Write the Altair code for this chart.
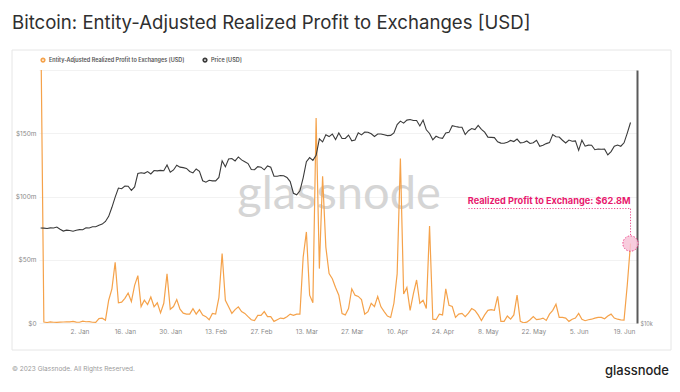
import altair as alt
import pandas as pd

# ---------------- data ----------------
title_text = "Bitcoin: Entity-Adjusted Realized Profit to Exchanges [USD]"
series_names = ["Entity-Adjusted Realized Profit to Exchanges [USD]", "Price [USD]"]
series_colors = ["#f5a24a", "#3a3a3a"]
start_date = "2022-12-21"

# realized profit to exchanges, USD millions, one value per day
profit_musd = [
    250,
    0.8, 0.4, 0.9, 0.6, 0.5, 0.7, 0.8, 1.0, 0.9, 1.3,
    0.7, 0.6, 1.5, 1.0, 1.1, 0.6, 0.5, 3.5, 3.8, 2.2,
    18, 27, 48, 16, 16.5, 19.5, 23.7, 17, 29.7, 37.5,
    13, 18, 14.6, 20.6, 12.8, 16, 8, 15.6, 38.8, 10.9,
    13, 18.5, 11, 7.8, 7, 7, 11.4, 7, 10.6, 6.2,
    5, 2.6, 7.6, 7, 20, 55, 18, 12.8, 7.6, 10.6,
    12.8, 9, 7.6, 5, 2.6, 2, 6, 6, 9, 5,
    5, 1.3, 2.6, 3.9, 3.5, 5, 7, 6, 7, 7,
    52, 72, 22, 16, 162, 43, 116, 60, 39, 35,
    28, 22, 7.5, 6.4, 11.4, 27, 22, 21, 18.5, 7,
    9, 15.6, 13, 21, 12.8, 9, 5.5, 4.4, 15.6, 38.8,
    130, 23, 28, 10, 23, 34, 15.6, 18, 11.4, 76.6,
    3, 2.6, 7, 6.4, 27, 14, 13, 4.4, 7, 7.6,
    5, 7.8, 11.4, 10, 6.4, 2, 6.4, 10, 10.6, 10,
    21, 1.3, 1.3, 5.5, 3, 6.4, 22, 1.3, 0.2, 0.7,
    2.6, 5, 2.6, 3, 3.9, 2, 7, 10, 14.8, 4.4,
    4.4, 3.9, 1.3, 3, 3.9, 7.6, 3, 1.8, 2.6, 3,
    3.9, 4.4, 4.4, 3.4, 5.5, 7, 3.9, 3, 2.5, 2.3,
    30, 62.8,
]

# BTC price, USD, one value per day
price_usd = [
    # Dec 21 - Dec 31
    16830, 16820, 16780, 16840, 16830, 16920, 16710, 16550, 16630, 16600, 16540,
    # Jan
    16620, 16680, 16670, 16850, 16830, 16950, 16950, 17090, 17190, 17440,
    17940, 18850, 19930, 20950, 20870, 21170, 21160, 20690, 21080, 22680,
    22780, 22710, 22920, 22630, 23060, 23010, 23080, 23030, 23770, 22840, 23130,
    # Feb
    23730, 23490, 23430, 23330, 22940, 22760, 23260, 22960, 21800, 21630,
    21860, 21790, 21790, 22200, 24320, 23530, 24570, 24630, 24300, 24840,
    24440, 24190, 23950, 23190, 23160, 23560, 23490, 23150,
    # Mar
    23650, 23480, 22360, 22350, 22430, 22410, 22200, 21700, 20360, 20190,
    20630, 22160, 24200, 24750, 24380, 25050, 27420, 26970, 28040, 27770,
    28170, 27310, 28330, 27490, 27490, 28000, 27140, 27270, 28350, 28030, 28480,
    # Apr
    28450, 28200, 27790, 28170, 28170, 28040, 27920, 27950, 28330, 29650,
    30230, 29890, 30400, 30490, 30320, 30320, 29430, 30400, 28820, 28250,
    27280, 27820, 27590, 27510, 28310, 28420, 29470, 29340, 29250, 29230,
    # May
    28090, 28680, 29030, 28850, 29530, 28900, 28450, 27690, 27650, 27620,
    27000, 26800, 26780, 26930, 27190, 27030, 27400, 26830, 26890, 27110,
    26750, 26850, 27220, 26330, 26480, 26720, 26870, 28090, 27740, 27700, 27220,
    # Jun 1 - Jun 21
    26820, 27250, 27070, 27120, 25760, 27240, 26350, 26500, 26480, 25840,
    25940, 25900, 25920, 25120, 25580, 26330, 26510, 26340, 26840, 28310, 30000,
]

x_tick_dates = [
    "2023-01-02", "2023-01-16", "2023-01-30", "2023-02-13", "2023-02-27",
    "2023-03-13", "2023-03-27", "2023-04-10", "2023-04-24", "2023-05-08",
    "2023-05-22", "2023-06-05", "2023-06-19",
]
x_domain = ["2022-12-20T12:00:00", "2023-06-23T00:00:00"]
y_grid_musd = [0, 25, 50, 75, 100, 125, 150, 175, 200]
annotation_text = "Realized Profit to Exchange: $62.8M"
annotation_start = "2023-05-02"
footer_text = "\u00a9 2023 Glassnode. All Rights Reserved."
brand_text = "glassnode"

assert len(profit_musd) == len(price_usd)

dates = pd.date_range(start_date, periods=len(profit_musd), freq="D")
df = pd.DataFrame({"date": dates, "profit": profit_musd, "price": price_usd})
df["series_a"] = series_names[0]
df["series_b"] = series_names[1]

# annotation anchored on the last profit value
last = df.tail(1).reset_index(drop=True)
ann = pd.DataFrame({
    "date": last["date"],
    "start": [pd.Timestamp(annotation_start)],
    "line_y": [90.5],
    "ring_top": [69.5],
    "text_y": [93.8],
})

FONT = "Inter"
PINK = "#e8196e"

x_scale = alt.Scale(domain=x_domain)
x_axis = alt.Axis(values=x_tick_dates,
                  format="%-d. %b", labelFontSize=6.5, labelColor="#8a8a8a", labelFont=FONT,
                  domain=False, ticks=False, tickSize=0, grid=False, labelPadding=5,
                  labelAngle=0)
x_enc = alt.X("date:T", title=None, scale=x_scale, axis=x_axis)

y_scale = alt.Scale(domain=[0, 200], nice=False, zero=True)
y_profit_axis = alt.Axis(values=y_grid_musd,
                         labelExpr="datum.value == 0 ? '$0' : (datum.value % 50 == 0 && datum.value < 200 ? '$' + datum.value + 'm' : '')",
                         labelFontSize=6.5, labelColor="#8a8a8a", labelFont=FONT,
                         domain=False, ticks=False, tickSize=0, labelPadding=3,
                         grid=True, gridColor="#efefef", gridWidth=0.8)

color_scale = alt.Scale(domain=series_names, range=series_colors)

one = alt.Data(values=[{"k": 1}])
card = alt.Chart(one).mark_rect(fillOpacity=0, stroke="#e6e6e6", strokeWidth=1).encode(
    x=alt.value(-27), x2=alt.value(632), y=alt.value(-20), y2=alt.value(280))
watermark = alt.Chart(one).mark_text(text=brand_text, font="Lato", fontSize=47, color="#d5d5d5",
                                     align="center", baseline="middle").encode(
    x=alt.value(300), y=alt.value(125))
title = alt.Chart(one).mark_text(text=title_text, font=FONT, fontSize=18.6, color="#2f2f2f",
                                 align="left", baseline="alphabetic").encode(
    x=alt.value(-27), y=alt.value(-41))
footer = alt.Chart(one).mark_text(text=footer_text, font=FONT, fontSize=6.5, color="#9a9a9a",
                                  align="left", baseline="middle").encode(
    x=alt.value(-27), y=alt.value(299))
brand = alt.Chart(one).mark_text(text=brand_text, font=FONT, fontSize=13, color="#222222",
                                 fontWeight=500, align="right", baseline="middle").encode(
    x=alt.value(630), y=alt.value(301))

profit_line = alt.Chart(df).mark_line(strokeWidth=1.2, clip=True).encode(
    x=x_enc,
    y=alt.Y("profit:Q", title=None, scale=y_scale, axis=y_profit_axis),
    color=alt.Color("series_a:N", scale=color_scale, legend=alt.Legend(title=None)),
)

marker = alt.Chart(last).mark_point(shape="circle", size=235, fill="#f7c3d7", fillOpacity=0.85,
                                    stroke=PINK, strokeWidth=0.8, strokeDash=[1.5, 1.5]).encode(
    x=alt.X("date:T", title=None), y=alt.Y("profit:Q", title=None))

v_rule = alt.Chart(ann).mark_rule(color=PINK, strokeWidth=0.8, strokeDash=[1.2, 1.6]).encode(
    x=alt.X("date:T", title=None), y=alt.Y("ring_top:Q", title=None), y2="line_y:Q")

h_rule = alt.Chart(ann).mark_rule(color=PINK, strokeWidth=0.8, strokeDash=[1.2, 1.6]).encode(
    x=alt.X("start:T", title=None), x2="date:T", y=alt.Y("line_y:Q", title=None))

ann_text = alt.Chart(ann).mark_text(text=annotation_text, color=PINK, font=FONT, fontSize=9.2,
                                    fontWeight="bold", align="right", baseline="alphabetic").encode(
    x=alt.X("date:T", title=None), y=alt.Y("text_y:Q", title=None))

profit_group = alt.layer(card, watermark, title, footer, brand,
                         profit_line, marker, v_rule, h_rule, ann_text)

price_line = alt.Chart(df).mark_line(strokeWidth=1.1).encode(
    x=x_enc,
    y=alt.Y("price:Q", title=None,
            scale=alt.Scale(type="log", domain=[10000, 40000], nice=False),
            axis=alt.Axis(orient="right", values=[10000], labelExpr="'$10k'",
                          labelFontSize=5.5, labelColor="#8a8a8a", labelFont=FONT,
                          domain=True, domainColor="#5a5a5a", domainWidth=2,
                          ticks=False, tickSize=0, grid=False, labelPadding=3)),
    color=alt.Color("series_b:N", scale=color_scale, legend=alt.Legend(title=None)),
)

chart = alt.layer(profit_group, price_line).resolve_scale(
    y="independent"
).properties(
    width=598, height=253,
    padding={"left": 31, "top": 62, "right": 35, "bottom": 61},
    autosize=alt.AutoSizeParams(type="none"),
    background="white",
).configure_view(stroke=None).configure_legend(
    orient="none", legendX=1, legendY=-13, direction="horizontal",
    symbolType="circle", symbolSize=3, symbolStrokeWidth=3.5,
    labelFontSize=5.5, labelColor="#555555", labelFont=FONT, labelFontWeight=600,
    labelLimit=0, columnPadding=12, padding=0, labelOffset=3,
)

chart.save("out.html", embed_options={"renderer": "svg", "actions": False})
